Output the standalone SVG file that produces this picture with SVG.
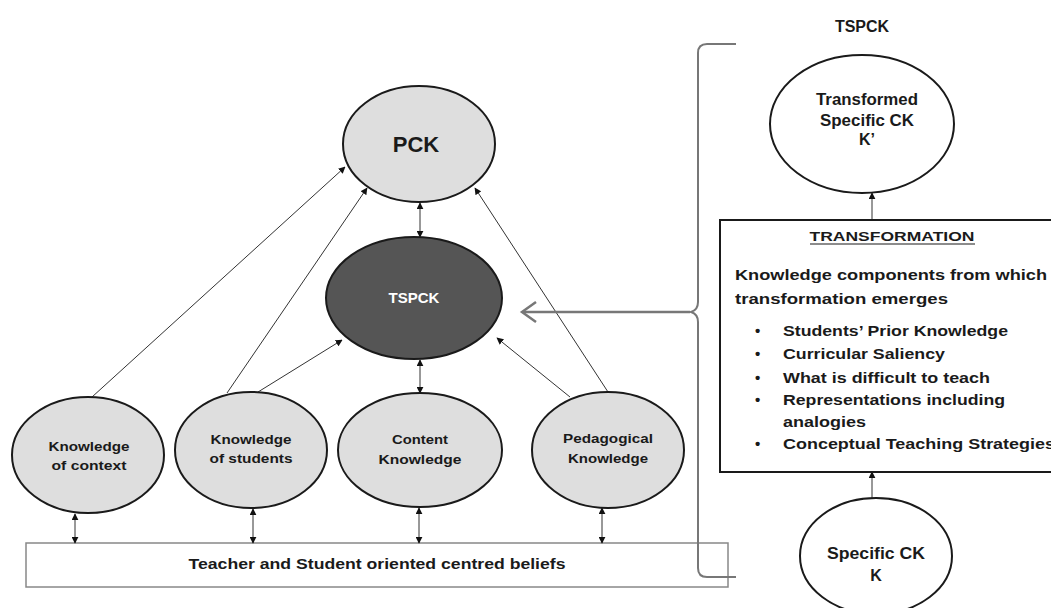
<svg xmlns="http://www.w3.org/2000/svg" width="1051" height="608" viewBox="0 0 1051 608">
<style>
  text { font-family: "Liberation Sans", Arial, sans-serif; font-weight: bold; fill: #1a1a1a; }
  .lt { fill: #dedede; stroke: #1a1a1a; stroke-width: 2; }
  .wh { fill: #fff; stroke: #1a1a1a; stroke-width: 2; }
  .c { stroke: #333; stroke-width: 1; fill: none; }
  .s12 { font-size: 12.5px; text-anchor: middle; }
  .s16 { font-size: 16px; text-anchor: middle; }
  .b { font-size: 15px; }
</style>
<defs>
  <marker id="ah" viewBox="0 0 10 10" refX="9" refY="5" markerWidth="7" markerHeight="7" orient="auto-start-reverse" markerUnits="userSpaceOnUse">
    <path d="M0,0 L10,5 L0,10 z" fill="#111"/>
  </marker>
</defs>

<g id="beliefs">
  <rect x="26" y="543" width="702" height="44" fill="#fff" stroke="#888" stroke-width="1.5"/>
  <text x="377" y="569" style="font-size:15px" text-anchor="middle" textLength="377" lengthAdjust="spacingAndGlyphs">Teacher and Student oriented centred beliefs</text>
</g>

<g id="connectors">
  <line class="c" x1="92" y1="397" x2="345" y2="167" marker-end="url(#ah)"/>
  <line class="c" x1="227" y1="393" x2="367" y2="188" marker-end="url(#ah)"/>
  <line class="c" x1="608" y1="392" x2="475" y2="188" marker-end="url(#ah)"/>
  <line class="c" x1="258" y1="392" x2="342" y2="340" marker-end="url(#ah)"/>
  <line class="c" x1="570" y1="397" x2="497" y2="338" marker-end="url(#ah)"/>
  <line class="c" x1="420" y1="203" x2="420" y2="237" marker-start="url(#ah)" marker-end="url(#ah)"/>
  <line class="c" x1="420" y1="360" x2="420" y2="393" marker-start="url(#ah)" marker-end="url(#ah)"/>
  <line class="c" x1="75" y1="514" x2="75" y2="543" marker-start="url(#ah)" marker-end="url(#ah)"/>
  <line class="c" x1="253" y1="509" x2="253" y2="543" marker-start="url(#ah)" marker-end="url(#ah)"/>
  <line class="c" x1="419" y1="508" x2="419" y2="543" marker-start="url(#ah)" marker-end="url(#ah)"/>
  <line class="c" x1="602" y1="508" x2="602" y2="543" marker-start="url(#ah)" marker-end="url(#ah)"/>
  <line class="c" x1="872" y1="220" x2="872" y2="193" marker-end="url(#ah)"/>
  <line class="c" x1="872" y1="498" x2="872" y2="472" marker-end="url(#ah)"/>
  <path d="M736,44 L707,44 Q698,44 698,53 L698,302 Q698,310 691,312 Q698,314 698,322 L698,568 Q698,577 707,577 L736,577" fill="none" stroke="#777" stroke-width="2"/>
  <line x1="690" y1="312" x2="523" y2="312" stroke="#777" stroke-width="2.5"/>
  <polyline points="536,302 522,312 536,322" fill="none" stroke="#777" stroke-width="2.5"/>
</g>

<g id="pck">
  <ellipse class="lt" cx="419" cy="144" rx="76" ry="58"/>
  <text x="416" y="152" style="font-size:22px" text-anchor="middle">PCK</text>
</g>

<g id="tspck">
  <ellipse cx="414" cy="298" rx="88" ry="61" fill="#555" stroke="#1a1a1a" stroke-width="2"/>
  <text x="414" y="303" style="font-size:15px;fill:#fff" text-anchor="middle">TSPCK</text>
</g>

<g id="context">
  <ellipse class="lt" cx="88" cy="455" rx="76" ry="58"/>
  <text class="s12" x="89" y="451" textLength="81" lengthAdjust="spacingAndGlyphs">Knowledge</text>
  <text class="s12" x="89" y="470" textLength="75" lengthAdjust="spacingAndGlyphs">of context</text>
</g>

<g id="students">
  <ellipse class="lt" cx="251" cy="450" rx="76" ry="58"/>
  <text class="s12" x="251" y="444" textLength="81" lengthAdjust="spacingAndGlyphs">Knowledge</text>
  <text class="s12" x="251" y="463" textLength="83" lengthAdjust="spacingAndGlyphs">of students</text>
</g>

<g id="content">
  <ellipse class="lt" cx="420" cy="450" rx="82" ry="57"/>
  <text class="s12" x="420" y="444" textLength="56" lengthAdjust="spacingAndGlyphs">Content</text>
  <text class="s12" x="420" y="464" textLength="83" lengthAdjust="spacingAndGlyphs">Knowledge</text>
</g>

<g id="pedagogical">
  <ellipse class="lt" cx="608" cy="450" rx="76" ry="58"/>
  <text class="s12" x="608" y="443" textLength="90" lengthAdjust="spacingAndGlyphs">Pedagogical</text>
  <text class="s12" x="608" y="463" textLength="80" lengthAdjust="spacingAndGlyphs">Knowledge</text>
</g>

<g id="tspck-label">
  <text class="s16" x="862" y="32">TSPCK</text>
</g>

<g id="transformed">
  <ellipse class="wh" cx="862" cy="124" rx="92" ry="69"/>
  <text class="s16" x="867" y="105" textLength="102" lengthAdjust="spacingAndGlyphs">Transformed</text>
  <text class="s16" x="867" y="126" textLength="94" lengthAdjust="spacingAndGlyphs">Specific CK</text>
  <text class="s16" x="867" y="145">K’</text>
</g>

<g id="transformation">
  <rect x="720" y="220" width="340" height="252" fill="#fff" stroke="#1a1a1a" stroke-width="2"/>
  <text x="892" y="241" style="font-size:13px" text-anchor="middle" textLength="165" lengthAdjust="spacingAndGlyphs">TRANSFORMATION</text>
  <line x1="810" y1="244" x2="975" y2="244" stroke="#1a1a1a" stroke-width="1.2"/>
  <text class="b" x="735" y="280" textLength="312" lengthAdjust="spacingAndGlyphs">Knowledge components from which</text>
  <text class="b" x="735" y="304" textLength="213" lengthAdjust="spacingAndGlyphs">transformation emerges</text>
  <text class="b" x="755" y="336">•</text>
  <text class="b" x="783" y="336" textLength="225" lengthAdjust="spacingAndGlyphs">Students’ Prior Knowledge</text>
  <text class="b" x="755" y="359">•</text>
  <text class="b" x="783" y="359" textLength="162" lengthAdjust="spacingAndGlyphs">Curricular Saliency</text>
  <text class="b" x="755" y="383">•</text>
  <text class="b" x="783" y="383" textLength="207" lengthAdjust="spacingAndGlyphs">What is difficult to teach</text>
  <text class="b" x="755" y="405">•</text>
  <text class="b" x="783" y="405" textLength="222" lengthAdjust="spacingAndGlyphs">Representations including</text>
  <text class="b" x="783" y="427" textLength="83" lengthAdjust="spacingAndGlyphs">analogies</text>
  <text class="b" x="755" y="449">•</text>
  <text class="b" x="783" y="449" textLength="272" lengthAdjust="spacingAndGlyphs">Conceptual Teaching Strategies</text>
</g>

<g id="specific">
  <ellipse class="wh" cx="876" cy="556" rx="76" ry="58"/>
  <text class="s16" x="876" y="559" textLength="98" lengthAdjust="spacingAndGlyphs">Specific CK</text>
  <text class="s16" x="876" y="581">K</text>
</g>
</svg>
